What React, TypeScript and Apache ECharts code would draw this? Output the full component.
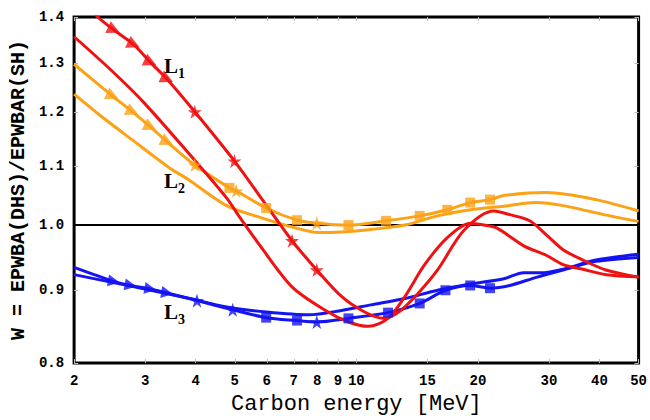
import React, { useEffect, useRef } from 'react';
import * as echarts from 'echarts';

// Axis tick values
const xTicks = [2, 3, 4, 5, 6, 7, 8, 9, 10, 15, 20, 30, 40, 50];
const yTicks = [0.8, 0.9, 1.0, 1.1, 1.2, 1.3, 1.4];

// Curves: [carbon energy MeV, W]
const redMarkedLine: [number, number][] = [
  [2.18, 1.427], [2.29, 1.4], [2.51, 1.371], [2.81, 1.339], [3.09, 1.301], [3.4, 1.266],
  [3.98, 1.201], [4.99, 1.109], [5.98, 1.033], [6.93, 0.975], [7.98, 0.93], [9.19, 0.891],
  [10.4, 0.87], [11.65, 0.86], [12.68, 0.868], [14.19, 0.895], [15.89, 0.93], [18.5, 0.992],
  [21.9, 1.023], [23.99, 1.017], [26.87, 1.007], [29.6, 0.984], [32.5, 0.961], [36.4, 0.945],
  [41.5, 0.93], [50, 0.919],
];
const redPlainLine: [number, number][] = [
  [2.0, 1.356], [2.46, 1.286], [2.97, 1.22], [3.94, 1.114], [4.77, 1.045], [5.14, 1.013],
  [5.75, 0.969], [6.93, 0.905], [8.39, 0.871], [9.56, 0.855], [10.7, 0.849], [11.98, 0.86],
  [13.19, 0.891], [14.76, 0.938], [16.8, 0.98], [19.14, 1.003], [20.7, 1.0], [22.3, 0.995],
  [25.97, 0.967], [29.6, 0.952], [32.5, 0.938], [36.4, 0.931], [41.5, 0.923], [50, 0.92],
];
const orangeMarkedLine: [number, number][] = [
  [2.0, 1.297], [2.49, 1.232], [2.79, 1.201], [3.09, 1.172], [3.4, 1.144], [3.98, 1.102],
  [4.85, 1.062], [5.04, 1.057], [5.98, 1.028], [7.13, 1.008], [7.98, 1.003], [9.56, 1.0],
  [11.85, 1.007], [14.35, 1.015], [16.8, 1.025], [19.14, 1.037], [21.43, 1.042], [23.2, 1.049],
  [29.6, 1.054], [39.2, 1.042], [50, 1.023],
];
const orangePlainLine: [number, number][] = [
  [2.0, 1.236], [2.33, 1.193], [2.76, 1.15], [3.46, 1.096], [3.81, 1.078], [4.77, 1.032],
  [5.75, 1.013], [6.93, 0.997], [8.07, 0.988], [9.19, 0.989], [10.88, 0.993], [13.19, 1.0],
  [15.89, 1.015], [19.14, 1.025], [23.2, 1.031], [27.9, 1.037], [32.5, 1.032], [39.2, 1.02],
  [43.9, 1.013], [50, 1.006],
];
const blueMarkedLine: [number, number][] = [
  [2.0, 0.934], [2.51, 0.913], [2.76, 0.907], [3.09, 0.902], [3.4, 0.896], [4.03, 0.885],
  [4.94, 0.872], [5.98, 0.861], [7.13, 0.857], [7.98, 0.855], [9.56, 0.86], [11.98, 0.868],
  [14.35, 0.881], [16.62, 0.9], [19.14, 0.907], [21.43, 0.903], [23.99, 0.907], [27.9, 0.919],
  [32.5, 0.93], [39.2, 0.943], [50, 0.949],
];
const bluePlainLine: [number, number][] = [
  [2.0, 0.923], [2.76, 0.906], [3.87, 0.888], [4.77, 0.876], [5.98, 0.869], [7.62, 0.865],
  [9.19, 0.871], [10.88, 0.879], [13.19, 0.888], [15.89, 0.9], [19.14, 0.909], [23.2, 0.917],
  [25.97, 0.926], [29.1, 0.926], [32.5, 0.931], [39.2, 0.945], [50, 0.954],
];

// Markers
const redTriangles: [number, number][] = [[2.51, 1.371], [2.81, 1.339], [3.09, 1.301], [3.4, 1.266]];
const redStars: [number, number][] = [[3.98, 1.201], [4.99, 1.109], [6.93, 0.975], [7.98, 0.93]];
const orangeTriangles: [number, number][] = [[2.49, 1.232], [2.79, 1.201], [3.09, 1.172], [3.4, 1.144]];
const orangeStars: [number, number][] = [[3.98, 1.102], [5.04, 1.057], [7.98, 1.003]];
const orangeSquares: [number, number][] = [
  [4.85, 1.062], [5.98, 1.028], [7.13, 1.008], [9.56, 1.0], [11.85, 1.007], [14.35, 1.015],
  [16.8, 1.025], [19.14, 1.037], [21.43, 1.042],
];
const blueTriangles: [number, number][] = [[2.51, 0.913], [2.76, 0.907], [3.09, 0.902], [3.4, 0.896]];
const blueStars: [number, number][] = [[4.03, 0.885], [4.94, 0.872], [7.98, 0.855]];
const blueSquares: [number, number][] = [
  [5.98, 0.861], [7.13, 0.857], [9.56, 0.86], [11.98, 0.868], [14.35, 0.881], [16.62, 0.9],
  [19.14, 0.907], [21.43, 0.903],
];

const RED = '#f01212';
const ORANGE = '#fba216';
const BLUE = '#1414f2';
const STAR = 'path://M50,0L61.8,35.4L99,35.4L69,57.3L80.4,92.7L50,70.8L19.6,92.7L31,57.3L1,35.4L38.2,35.4Z';

const monoFont = 'Liberation Mono, DejaVu Sans Mono, monospace';
const serifFont = 'Liberation Serif, DejaVu Serif, serif';

export default function App() {
  const ref = useRef<HTMLDivElement>(null);
  useEffect(() => {
    document.body.style.margin = '0';
    if (!ref.current) return;
    const chart = echarts.init(ref.current, null, { renderer: 'svg' });

    const line = (data: [number, number][], color: string, z = 3) => ({
      type: 'line',
      data,
      smooth: 0.3,
      symbol: 'none',
      lineStyle: { color, width: 3 },
      z,
    });
    const marks = (data: [number, number][], color: string, symbol: string, size: number, rotate = 0) => ({
      type: 'scatter',
      data,
      symbol,
      symbolSize: size,
      symbolRotate: rotate,
      itemStyle: { color },
      z: 5,
    });

    const tickLabel = {
      fontFamily: monoFont,
      fontWeight: 'bold',
      fontSize: 14,
      color: '#000',
    };
    const tick = (vals: number[]) => ({
      show: true,
      inside: true,
      length: 4,
      customValues: vals,
      lineStyle: { color: '#bbb', width: 1 },
    });
    const lLabel = (n: string, top: number) => ({
      type: 'text',
      left: 164,
      top,
      style: {
        text: `{a|L}{b|${n}}`,
        rich: {
          a: { fontFamily: serifFont, fontSize: 21, fontWeight: 'bold', fill: '#000', verticalAlign: 'bottom' },
          b: { fontFamily: serifFont, fontSize: 14, fontWeight: 'bold', fill: '#000', verticalAlign: 'bottom', padding: [0, 0, -4, 0] },
        },
      },
    });

    const option: any = {
      animation: false,
      backgroundColor: '#fff',
      grid: {
        left: 73,
        right: 7,
        top: 17,
        bottom: 53,
        show: true,
        borderColor: '#000',
        borderWidth: 3,
        containLabel: false,
      },
      xAxis: [
        {
          type: 'log',
          logBase: 10,
          min: 2,
          max: 50,
          position: 'bottom',
          name: 'Carbon energy [MeV]',
          nameLocation: 'middle',
          nameGap: 27,
          nameTextStyle: { fontFamily: monoFont, fontSize: 22, color: '#000' },
          axisLine: { show: false },
          axisTick: tick(xTicks),
          axisLabel: { ...tickLabel, margin: 11, customValues: xTicks, formatter: (v: number) => String(Math.round(v)) },
          splitLine: { show: false },
          minorTick: { show: false },
        },
        {
          type: 'log',
          logBase: 10,
          min: 2,
          max: 50,
          position: 'top',
          axisLine: { show: false },
          axisTick: tick(xTicks),
          axisLabel: { show: false },
          splitLine: { show: false },
        },
      ],
      yAxis: [
        {
          type: 'log',
          logBase: 10,
          min: 0.8,
          max: 1.4,
          position: 'left',
          name: 'W = EPWBA(DHS)/EPWBAR(SH)',
          nameLocation: 'middle',
          nameRotate: 90,
          nameGap: 45,
          nameTextStyle: { fontFamily: monoFont, fontSize: 20, fontWeight: 'bold', color: '#000' },
          axisLine: { show: false },
          axisTick: tick(yTicks),
          axisLabel: { ...tickLabel, margin: 10, customValues: yTicks, formatter: (v: number) => v.toFixed(1) },
          splitLine: { show: false },
          minorTick: { show: false },
        },
        {
          type: 'log',
          logBase: 10,
          min: 0.8,
          max: 1.4,
          position: 'right',
          axisLine: { show: false },
          axisTick: tick(yTicks),
          axisLabel: { show: false },
          splitLine: { show: false },
        },
      ],
      series: [
        {
          ...line(bluePlainLine, BLUE),
          markLine: {
            silent: true,
            symbol: ['none', 'none'],
            label: { show: false },
            lineStyle: { color: '#000', width: 2, type: 'solid' },
            data: [{ yAxis: 1.0 }],
            z: 2,
          },
        },
        line(blueMarkedLine, BLUE),
        line(orangePlainLine, ORANGE),
        line(orangeMarkedLine, ORANGE),
        line(redPlainLine, RED, 4),
        line(redMarkedLine, RED, 4),
        marks(redTriangles, RED, 'triangle', 13, -115),
        marks(redStars, RED, STAR, 14),
        marks(orangeTriangles, ORANGE, 'triangle', 13, -115),
        marks(orangeStars, ORANGE, STAR, 14),
        marks(orangeSquares, ORANGE, 'rect', 10),
        marks(blueTriangles, BLUE, 'triangle', 12, -100),
        marks(blueStars, BLUE, STAR, 14),
        marks(blueSquares, BLUE, 'rect', 10),
      ],
      graphic: [lLabel('1', 55), lLabel('2', 170), lLabel('3', 301)],
    };
    chart.setOption(option);
    return () => chart.dispose();
  }, []);
  return <div ref={ref} style={{ width: 650, height: 420 }} />;
}
